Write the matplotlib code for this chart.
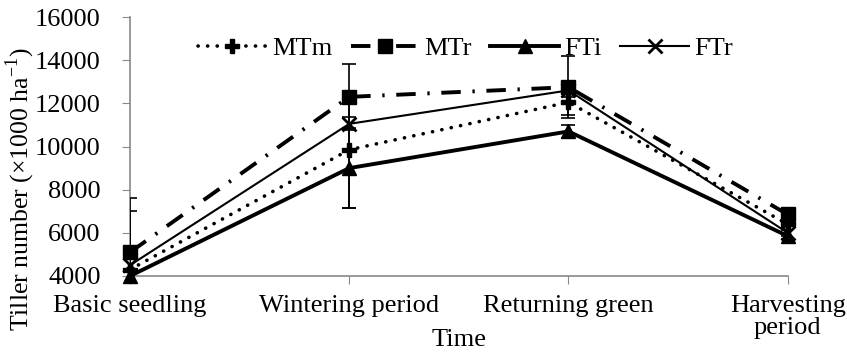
import numpy as np
import matplotlib.pyplot as plt

plt.rcParams['font.family'] = ['Liberation Serif', 'DejaVu Serif']
plt.rcParams['mathtext.fontset'] = 'custom'
plt.rcParams['mathtext.rm'] = 'Liberation Serif'

stages = ['Basic seedling', 'Wintering period', 'Returning green', 'Harvesting\nperiod']
mtm = [4300, 9850, 12050, 6400]
mtr = [5100, 12300, 12750, 6850]
fti = [4000, 9000, 10700, 5850]
ftr = [4500, 11050, 12600, 6000]

mtm_err = [2700, 2700, 600, 150]
mtr_err = [2500, 1500, 1450, 150]
fti_err = [300, 1850, 300, 150]
ftr_err = [300, 300, 300, 150]

x = np.arange(len(stages))

fig = plt.figure(figsize=(8.47, 3.59), dpi=100)
ax = fig.add_axes([0.1535, 0.2312, 0.7765, 0.7214])

fs = 19
l1, = ax.plot(x, mtm, color='black', lw=2.6, ls=(0, (0.05, 2.6)), dash_capstyle='round',
              marker='P', ms=10, clip_on=False, zorder=4)
l2, = ax.plot(x, mtr, color='black', lw=2.8, ls=(0, (5, 3, 0.6, 3)),
              marker='s', ms=10, clip_on=False, zorder=4)
l3, = ax.plot(x, fti, color='black', lw=2.8, ls='-',
              marker='^', ms=10, clip_on=False, zorder=4)
l4, = ax.plot(x, ftr, color='black', lw=1.5, ls='-',
              marker='x', ms=10, mew=2, clip_on=False, zorder=4)

# столбики погрешностей
for vals, errs in [(mtm, mtm_err), (mtr, mtr_err), (fti, fti_err), (ftr, ftr_err)]:
    ax.errorbar(x, vals, yerr=errs, fmt='none', ecolor='black', elinewidth=1.2,
                capsize=5, capthick=1.2, zorder=3)

ax.set_xlim(0, 3)
ax.set_ylim(4000, 16000)
ax.set_yticks(np.arange(4000, 16001, 2000))
ax.set_xticks(x)
ax.set_xticklabels(stages, fontsize=fs, linespacing=1.0)
ax.tick_params(axis='y', labelsize=fs, direction='out', length=6, color='#888888', pad=15)
ax.tick_params(axis='x', direction='out', length=6, color='#888888', pad=8)

for s in ['top', 'right']:
    ax.spines[s].set_visible(False)
for s in ['left', 'bottom']:
    ax.spines[s].set_color('#888888')
    ax.spines[s].set_linewidth(1.2)

ax.set_xlabel('Time', fontsize=fs)
ax.xaxis.set_label_coords(0.5, -0.205)
ax.set_ylabel(r'Tiller number (×1000 ha$^{\mathregular{-1}}$)', fontsize=18.5)
ax.yaxis.set_label_coords(-0.142, 0.336)

ax.legend([l1, l2, l3, l4], ['MTm', 'MTr', 'FTi', 'FTr'], ncol=4, frameon=False,
          fontsize=fs, loc='center', bbox_to_anchor=(0.51, 0.88),
          handlelength=2.6, handletextpad=0.2, columnspacing=0.7)

fig.savefig('out.png', dpi=100)
